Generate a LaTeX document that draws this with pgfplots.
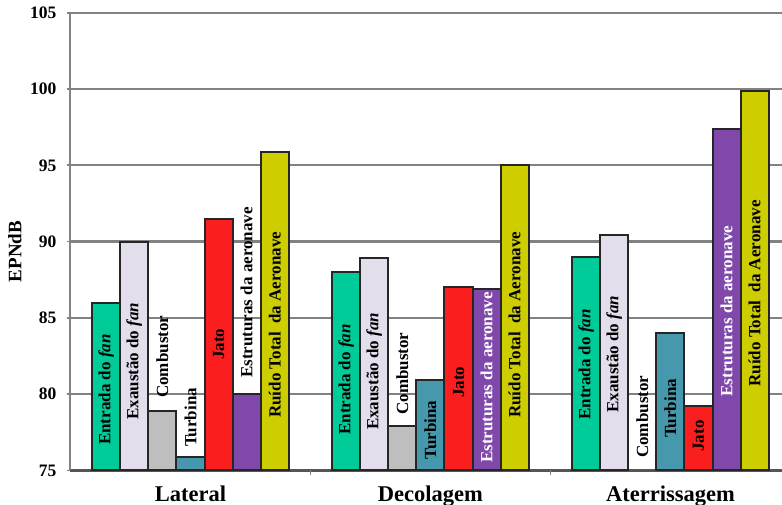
\documentclass[border=0pt]{standalone}
\usepackage{pgfplots}
\pgfplotsset{compat=1.18}
\usepackage{fontspec}
\setmainfont{Liberation Serif}

\definecolor{cEntrada}{RGB}{0,204,153}
\definecolor{cExaustao}{RGB}{228,222,236}
\definecolor{cCombustor}{RGB}{190,190,190}
\definecolor{cTurbina}{RGB}{70,152,172}
\definecolor{cJato}{RGB}{250,30,30}
\definecolor{cEstruturas}{RGB}{128,72,170}
\definecolor{cTotal}{RGB}{205,205,0}
\definecolor{gridgray}{RGB}{130,130,130}
\definecolor{axisgray}{RGB}{85,85,85}

% rotated source label: x position, start height, text, colour
\newcommand{\fonte}[4]{\node[rotate=90, anchor=west, inner sep=0pt, text=#4,
  font=\fontsize{17}{20}\selectfont\bfseries] at (axis cs:#1,#2) {#3};}

\pgfplotsset{barra/.style={draw=black!85, line width=2pt, fill=#1}}

\begin{document}
\begin{tikzpicture}
\useasboundingbox (-70pt,-34.5pt) rectangle (712pt,470.5pt);
\begin{axis}[
  at={(0,0)}, anchor=south west,
  width=712pt, height=457.8pt, scale only axis,
  xmin=-0.502, xmax=2.465,
  ymin=75, ymax=105,
  ytick={75,80,...,105},
  xtick={0,1,2},
  xticklabels={Lateral,Decolagem,Aterrissagem},
  axis x line=bottom, axis y line=left,
  axis line style={-},
  x axis line style={draw=axisgray, line width=2.4pt},
  y axis line style={draw=gridgray, line width=2.2pt},
  ymajorgrids,
  grid style={draw=gridgray, line width=2.2pt},
  tick align=outside,
  ytick style={draw=gridgray, line width=1.8pt},
  major tick length=3pt,
  xtick style={draw=none},
  extra x ticks={0.5,1.5},
  extra x tick labels={},
  extra x tick style={grid=none, xtick style={draw=gridgray, line width=1pt}, major tick length=5pt},
  /pgf/number format/assume math mode=true,
  yticklabel style={font=\fontsize{17.5}{20}\selectfont\bfseries, anchor=east, inner sep=0pt, xshift=-10.5pt},
  xticklabel style={font=\fontsize{22.5}{26}\selectfont\bfseries, anchor=base, yshift=-28pt},
  ybar, bar width=0.117, bar shift=0pt,
]
% Entrada do fan
\addplot[barra=cEntrada] coordinates {(-0.351,86.0) (0.649,88.0) (1.649,89.0)};
% Exaustao do fan
\addplot[barra=cExaustao] coordinates {(-0.234,90.0) (0.766,88.9) (1.766,90.4)};
% Combustor (below the axis floor on landing)
\addplot[barra=cCombustor] coordinates {(-0.117,78.9) (0.883,77.9)};
% Turbina
\addplot[barra=cTurbina] coordinates {(0,75.9) (1,80.9) (2,84.0)};
% Jato
\addplot[barra=cJato] coordinates {(0.117,91.5) (1.117,87.0) (2.117,79.2)};
% Estruturas da aeronave
\addplot[barra=cEstruturas] coordinates {(0.234,80.0) (1.234,86.9) (2.234,97.4)};
% Ruido total da aeronave
\addplot[barra=cTotal] coordinates {(0.351,95.9) (1.351,95.0) (2.351,99.9)};

% Lateral
\fonte{-0.351}{76.67}{Entrada do \textit{fan}}{black}
\fonte{-0.234}{78.31}{Exaustão do \textit{fan}}{black}
\fonte{-0.117}{79.75}{Combustor}{black}
\fonte{0}{76.54}{Turbina}{black}
\fonte{0.117}{82.24}{Jato}{black}
\fonte{0.234}{81.06}{Estruturas da aeronave}{black}
\fonte{0.351}{78.44}{Ruído Total\ \ da Aeronave}{black}
% Decolagem
\fonte{0.649}{77.33}{Entrada do \textit{fan}}{black}
\fonte{0.766}{77.65}{Exaustão do \textit{fan}}{black}
\fonte{0.883}{78.64}{Combustor}{black}
\fonte{1.0}{75.69}{Turbina}{black}
\fonte{1.117}{79.75}{Jato}{black}
\fonte{1.234}{75.49}{Estruturas da aeronave}{white}
\fonte{1.351}{78.44}{Ruído Total\ \ da Aeronave}{black}
% Aterrissagem
\fonte{1.649}{78.31}{Entrada do \textit{fan}}{black}
\fonte{1.766}{78.77}{Exaustão do \textit{fan}}{black}
\fonte{1.883}{75.82}{Combustor}{black}
\fonte{2.0}{77.13}{Turbina}{black}
\fonte{2.117}{76.23}{Jato}{black}
\fonte{2.234}{79.84}{Estruturas da aeronave}{white}
\fonte{2.351}{80.49}{Ruído Total\ \ da Aeronave}{black}
\end{axis}
\node[rotate=90, font=\fontsize{19}{22}\selectfont\bfseries] at (-55pt,219pt) {EPNdB};
\end{tikzpicture}
\end{document}
